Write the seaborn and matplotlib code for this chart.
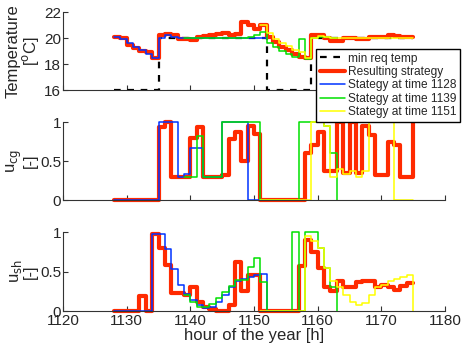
import numpy as np
import pandas as pd
import matplotlib
matplotlib.use('Agg')
import matplotlib.pyplot as plt
import seaborn as sns

sns.set_style('ticks')
plt.rcParams['font.family'] = ['Liberation Sans', 'DejaVu Sans']

# hours for each strategy (step series, value holds until next hour)
hours_res = list(range(1128, 1176))
hours_1128 = list(range(1128, 1153))
hours_1139 = list(range(1139, 1164))
hours_1151 = list(range(1151, 1176))

# minimum required temperature
req_hours = [1128, 1135, 1152, 1159, 1175]
req_temp = [16, 20, 16, 20, 20]

# temperature [oC]
temp_res = [20.1, 20.0, 19.5, 19.2, 19.0, 18.9, 18.5, 20.2, 20.3, 20.2,
            19.95, 19.9, 19.85, 20.1, 20.15, 20.25, 20.3, 20.4, 20.2, 20.3,
            21.2, 21.0, 20.7, 21.0, 20.1, 19.7, 19.3, 19.1, 18.8, 18.55,
            18.5, 20.2, 20.2, 20.0, 19.8, 19.8, 20.0, 20.0, 19.9, 19.9,
            20.05, 20.1, 20.1, 20.2, 20.15, 20.1, 20.05, 20.05]
temp_1128 = [20.1, 19.9, 19.6, 19.3, 19.1, 18.8, 18.5, 20.0, 20.2, 20.1,
             20.0, 20.0, 20.0, 20.0, 20.0, 20.0, 20.0, 20.0, 20.0, 20.0,
             20.0, 20.0, 20.0, 20.0, 20.0]
temp_1139 = [20.0, 20.0, 20.0, 20.0, 20.0, 20.0, 20.0, 20.0, 20.0, 20.0,
             20.1, 20.25, 20.5, 19.6, 19.3, 19.0, 18.8, 18.55, 19.9, 18.4,
             20.0, 20.05, 20.05, 20.0, 20.0]
temp_1151 = [21.0, 20.4, 19.9, 19.6, 19.4, 19.1, 18.9, 18.45, 20.0, 20.15,
             20.1, 20.0, 20.0, 20.0, 20.0, 20.0, 20.0, 20.0, 20.0, 20.0,
             20.0, 20.0, 20.0, 20.0, 20.0]

# u_cg [-]
ucg_res = [0, 0, 0, 0, 0, 0, 0, 0.93, 1.0, 0.3,
           0.3, 0.3, 0.8, 0.93, 0.3, 0.3, 0.3, 0.32, 0.78, 0.87,
           0.5, 0.95, 0.85, 0, 0, 0, 0, 0, 0, 0,
           0.6, 0.7, 0.87, 0.37, 0.37, 1.0, 0.35, 1.0, 0.35, 0.95,
           0.83, 0.32, 0.32, 0.75, 0.7, 0.3, 0.3, 1.0]
ucg_1128 = [0, 0, 0, 0, 0, 0, 0, 1, 1, 1,
            0.3, 0.33, 0.67, 0.67, 0.3, 0.3, 0.3, 1, 1, 1,
            1, 0, 0, 0, 0]
ucg_1139 = [0.3, 0.3, 0.82, 0.3, 0.3, 0.3, 1, 1, 1, 1,
            1, 1, 0, 0, 0, 0, 0, 0, 1, 1,
            1, 1, 0.95, 0.6, 0]
ucg_1151 = [0, 0, 0, 0, 0, 0, 0, 0, 1, 1,
            0.95, 0.3, 0.4, 0.33, 0.37, 0.3, 0.37, 1, 1, 1,
            1, 0, 0, 0, 0]

# u_sh [-]
ush_res = [0, 0, 0, 0, 0.19, 0, 0.97, 0.8, 0.58, 0.23,
           0.23, 0.2, 0.31, 0.12, 0.05, 0.02, 0, 0, 0.08, 0.62,
           0.25, 0.46, 0.46, 0, 0, 0, 0, 0, 0, 0.57,
           0.9, 0.75, 0.55, 0.3, 0.25, 0.38, 0.3, 0.3, 0.37, 0.38,
           0.38, 0.3, 0.33, 0.3, 0.27, 0.32, 0.35, 0.35]
ush_1128 = [0, 0, 0, 0, 0, 0, 0.97, 0.97, 0.78, 0.53,
            0.33, 0.22, 0.14, 0.08, 0.04, 0.05, 0.12, 0.2, 0.3, 0.38,
            0.4, 0.43, 0.45, 0.47, 0]
ush_1139 = [0.2, 0.11, 0.05, 0.05, 0.09, 0.17, 0.24, 0.32, 0.39, 0.39,
            0.56, 0.67, 0.37, 0, 0, 0, 0, 1.0, 0, 1.0,
            1.0, 0.8, 0.55, 0.3, 0]
ush_1151 = [0, 0, 0, 0, 0, 0, 0, 0.95, 0.88, 0.8,
            0.55, 0.38, 0.3, 0.2, 0.12, 0.08, 0.1, 0.2, 0.3, 0.33,
            0.38, 0.4, 0.43, 0.45, 0]

labels = ['Resulting strategy', 'Stategy at time 1128',
          'Stategy at time 1139', 'Stategy at time 1151']
colors = ['#ff2a00', '#0033ff', '#00e000', '#ffff00']
widths = [3.0, 1.1, 1.1, 1.1]

fig = plt.figure(figsize=(4.64, 3.47), dpi=100)
ax1 = fig.add_axes([0.136, 0.7406, 0.823, 0.2248])
ax2 = fig.add_axes([0.136, 0.4236, 0.823, 0.2248])
ax3 = fig.add_axes([0.136, 0.1037, 0.823, 0.2277])

panels = [
    (ax1, [temp_res, temp_1128, temp_1139, temp_1151]),
    (ax2, [ucg_res, ucg_1128, ucg_1139, ucg_1151]),
    (ax3, [ush_res, ush_1128, ush_1139, ush_1151]),
]
hour_sets = [hours_res, hours_1128, hours_1139, hours_1151]

sns.lineplot(x=req_hours, y=req_temp, ax=ax1, color='black', lw=1.6,
             linestyle=(0, (3, 3)), drawstyle='steps-post',
             label='min req temp', legend=False)

for ax, series in panels:
    for hrs, vals, lab, col, lw in zip(hour_sets, series, labels, colors, widths):
        sns.lineplot(x=hrs, y=vals, ax=ax, color=col, lw=lw,
                     drawstyle='steps-post', estimator=None,
                     label=lab if ax is ax1 else None, legend=False,
                     clip_on=False)

for ax in (ax1, ax2, ax3):
    ax.set_xlim(1120, 1180)
    ax.set_xticks(range(1120, 1181, 10))
    for s in ('top', 'right'):
        ax.spines[s].set_visible(False)
    for s in ('left', 'bottom'):
        ax.spines[s].set_linewidth(0.8)
        ax.spines[s].set_color('#333333')
    ax.tick_params(direction='in', length=3.5, width=0.8, labelsize=11,
                   color='#333333', pad=1.5)
    ax.tick_params(axis='x', pad=2.5)
    ax.set_xlabel('')

ax1.set_ylim(16, 22)
ax1.set_yticks([16, 18, 20, 22])
ax1.set_xticklabels([])
ax1.set_ylabel('Temperature\n[$^{\\rm o}$C]', fontsize=12,
               linespacing=0.95)
ax1.yaxis.set_label_coords(-0.058, 0.5)

for ax in (ax2, ax3):
    ax.set_ylim(0, 1)
    ax.set_yticks([0, 0.5, 1])
    ax.set_yticklabels(['0', '0.5', '1'])
ax2.set_xticklabels([])
ax2.set_ylabel('u$_{\\rm cg}$\n[-]', fontsize=12, linespacing=0.95)
ax3.set_ylabel('u$_{\\rm sh}$\n[-]', fontsize=12, linespacing=0.95)
ax2.yaxis.set_label_coords(-0.066, 0.5)
ax3.yaxis.set_label_coords(-0.066, 0.5)
ax3.set_xlabel('hour of the year [h]', fontsize=12, labelpad=0)

handles, labs = ax1.get_legend_handles_labels()
leg = fig.legend(handles, labs, loc='upper left',
                 bbox_to_anchor=(0.681, 0.859), fontsize=8.6,
                 frameon=True, fancybox=False, framealpha=1,
                 edgecolor='black', borderpad=0.3, labelspacing=0.12,
                 handlelength=2.1, handletextpad=0.3, borderaxespad=0)
leg.get_frame().set_linewidth(1.0)

fig.savefig('out.png', dpi=100)
